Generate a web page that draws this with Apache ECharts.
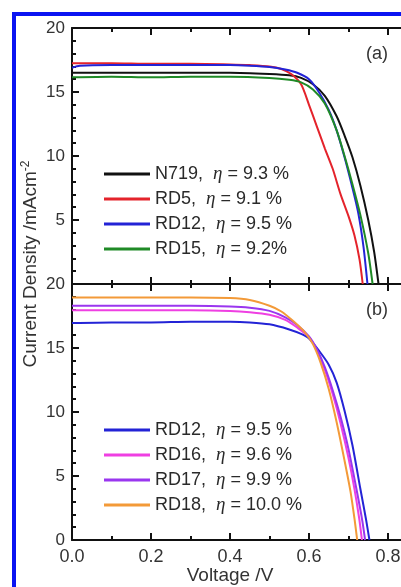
<!DOCTYPE html>
<html>
<head>
<meta charset="utf-8">
<script src="https://cdn.jsdelivr.net/npm/echarts@6/dist/echarts.min.js"></script>
<style>
  html, body { margin: 0; padding: 0; background: #fff; overflow: hidden; }
  #chart { width: 440px; height: 587px; }
</style>
</head>
<body>
<div id="chart"></div>
<script>
// panel (a)
const voltN719 = [0, 0.1, 0.2, 0.3, 0.4, 0.5, 0.55, 0.58, 0.61, 0.64, 0.67, 0.69, 0.71, 0.73, 0.75, 0.765, 0.776]
const curN719 = [16.5, 16.5, 16.5, 16.5, 16.5, 16.4, 16.3, 16.1, 15.6, 14.7, 13.1, 11.6, 9.9, 7.7, 5.0, 2.5, 0]
const voltRD5 = [0, 0.1, 0.2, 0.3, 0.4, 0.45, 0.5, 0.53, 0.555, 0.58, 0.6, 0.62, 0.64, 0.66, 0.68, 0.7, 0.715, 0.728, 0.736]
const curRD5 = [17.25, 17.25, 17.2, 17.2, 17.15, 17.1, 17.0, 16.8, 16.4, 15.6, 14.0, 12.3, 10.6, 9.0, 7.0, 5.3, 3.8, 1.9, 0]
const voltRD12a = [0, 0.02, 0.1, 0.2, 0.3, 0.4, 0.45, 0.5, 0.54, 0.57, 0.6, 0.625, 0.65, 0.67, 0.69, 0.71, 0.725, 0.738, 0.748]
const curRD12a = [16.9, 17.05, 17.1, 17.1, 17.1, 17.1, 17.05, 16.95, 16.75, 16.5, 16.0, 15.0, 13.6, 12.0, 9.9, 7.5, 5.5, 2.9, 0]
const voltRD15 = [0, 0.1, 0.2, 0.3, 0.4, 0.5, 0.55, 0.58, 0.61, 0.64, 0.67, 0.69, 0.71, 0.73, 0.75, 0.761]
const curRD15 = [16.15, 16.2, 16.15, 16.2, 16.2, 16.1, 15.95, 15.75, 15.2, 14.1, 12.0, 10.0, 7.8, 5.4, 2.4, 0]

// panel (b)
const voltRD12b = [0, 0.1, 0.2, 0.3, 0.4, 0.45, 0.5, 0.55, 0.58, 0.6, 0.625, 0.65, 0.67, 0.69, 0.71, 0.73, 0.745, 0.753]
const curRD12b = [16.95, 17.0, 17.0, 17.05, 17.05, 17.0, 16.85, 16.45, 16.1, 15.75, 14.8, 13.7, 12.3, 10.1, 7.4, 4.0, 1.5, 0]
const voltRD16 = [0, 0.1, 0.2, 0.3, 0.4, 0.45, 0.5, 0.54, 0.57, 0.6, 0.62, 0.64, 0.66, 0.68, 0.7, 0.715, 0.727, 0.734]
const curRD16 = [17.95, 17.95, 17.95, 17.95, 17.9, 17.8, 17.6, 17.2, 16.6, 15.85, 14.8, 13.3, 11.4, 9.1, 6.4, 4.0, 1.7, 0]
const voltRD17 = [0, 0.1, 0.2, 0.3, 0.4, 0.45, 0.5, 0.54, 0.57, 0.6, 0.62, 0.64, 0.66, 0.68, 0.7, 0.72, 0.735, 0.742]
const curRD17 = [18.3, 18.3, 18.3, 18.3, 18.25, 18.15, 17.9, 17.4, 16.8, 15.9, 14.9, 13.5, 11.7, 9.6, 7.1, 4.0, 1.5, 0]
const voltRD18 = [0, 0.1, 0.2, 0.3, 0.4, 0.45, 0.5, 0.53, 0.56, 0.59, 0.61, 0.63, 0.65, 0.67, 0.69, 0.705, 0.715, 0.722]
const curRD18 = [18.95, 18.95, 18.95, 18.95, 18.9, 18.75, 18.3, 17.85, 17.1, 16.2, 15.3, 13.8, 11.8, 9.2, 6.2, 3.8, 1.7, 0]

const dyesA = ["N719", "RD5", "RD12", "RD15"]
const etaA = ["9.3 %", "9.1 %", "9.5 %", "9.2%"]
const dyesB = ["RD12", "RD16", "RD17", "RD18"]
const etaB = ["9.5 %", "9.6 %", "9.9 %", "10.0 %"]

const xTicks = { min: 0, max: 0.9, interval: 0.2 }
const yTicks = { min: 0, max: 20, interval: 5 }

const FONT = "Liberation Sans"
const colorsA = ["#111111", "#e4232b", "#2323d6", "#1f8a26"]
const colorsB = ["#2323d6", "#ef3fe2", "#9a36ef", "#f39a38"]

const pairs = (xs, ys) => xs.map((x, i) => [x, ys[i]])

const seriesA = [
  pairs(voltN719, curN719),
  pairs(voltRD5, curRD5),
  pairs(voltRD12a, curRD12a),
  pairs(voltRD15, curRD15)
]
const seriesB = [
  pairs(voltRD12b, curRD12b),
  pairs(voltRD16, curRD16),
  pairs(voltRD17, curRD17),
  pairs(voltRD18, curRD18)
]

const labelMap = {}
dyesA.forEach((d, i) => { labelMap["a-" + d] = "{n|" + d + ",}  {e|η}{n| = " + etaA[i] + "}" })
dyesB.forEach((d, i) => { labelMap["b-" + d] = "{n|" + d + ",}  {e|η}{n| = " + etaB[i] + "}" })

const axisLine = { onZero: false, lineStyle: { color: "#111", width: 2 } }

function xAxis(gridIndex, position, labels) {
  return {
    type: "value",
    gridIndex,
    position,
    ...xTicks,
    axisLine,
    axisTick: { inside: true, length: 7, lineStyle: { color: "#111", width: 2 } },
    minorTick: { show: true, splitNumber: 2, length: 4, lineStyle: { color: "#111", width: 2 } },
    splitLine: { show: false },
    axisLabel: {
      show: labels,
      margin: 8,
      color: "#333",
      fontSize: 18,
      fontFamily: FONT,
      showMaxLabel: false,
      formatter: (v) => v.toFixed(1)
    }
  }
}

function yAxis(gridIndex, hideZero) {
  return {
    type: "value",
    gridIndex,
    ...yTicks,
    axisLine,
    axisTick: { inside: true, length: 7, lineStyle: { color: "#111", width: 2 } },
    minorTick: { show: true, splitNumber: 5, length: 4, lineStyle: { color: "#111", width: 2 } },
    splitLine: { show: false },
    axisLabel: {
      margin: 7,
      color: "#333",
      fontSize: 17,
      fontFamily: FONT,
      formatter: (v) => (hideZero && v === 0 ? "" : String(v))
    }
  }
}

function legend(names, top) {
  return {
    data: names,
    orient: "vertical",
    left: 104,
    top,
    padding: 0,
    itemGap: 0,
    itemWidth: 46,
    itemHeight: 3,
    icon: "rect",
    selectedMode: false,
    formatter: (name) => labelMap[name],
    textStyle: {
      fontSize: 18,
      lineHeight: 25,
      rich: {
        n: { fontSize: 18, lineHeight: 25, fontFamily: FONT, color: "#2a2a2a" },
        e: { fontSize: 19, lineHeight: 25, fontFamily: "Liberation Serif", fontStyle: "italic", color: "#2a2a2a" }
      }
    }
  }
}

const series = []
seriesA.forEach((data, i) => {
  series.push({
    name: "a-" + dyesA[i],
    type: "line",
    xAxisIndex: 0,
    yAxisIndex: 0,
    data,
    smooth: 0.25,
    showSymbol: false,
    color: colorsA[i],
    lineStyle: { width: 2, color: colorsA[i] }
  })
})
seriesB.forEach((data, i) => {
  series.push({
    name: "b-" + dyesB[i],
    type: "line",
    xAxisIndex: 3,
    yAxisIndex: 1,
    data,
    smooth: 0.25,
    showSymbol: false,
    color: colorsB[i],
    lineStyle: { width: 2, color: colorsB[i] }
  })
})

const chart = echarts.init(document.getElementById("chart"))
chart.setOption({
  animation: false,
  backgroundColor: "#fff",
  grid: [
    { left: 72, top: 28, width: 355.5, height: 256 },
    { left: 72, top: 284, width: 355.5, height: 256 }
  ],
  xAxis: [
    xAxis(0, "bottom", false),
    xAxis(0, "top", false),
    xAxis(1, "top", false),
    xAxis(1, "bottom", true)
  ],
  yAxis: [yAxis(0, true), yAxis(1, false)],
  legend: [
    legend(seriesA.map((_, i) => "a-" + dyesA[i]), 161.5),
    legend(seriesB.map((_, i) => "b-" + dyesB[i]), 417.5)
  ],
  series,
  graphic: [
    { type: "rect", shape: { x: 12, y: 12, width: 430, height: 4 }, style: { fill: "#0a14f2" } },
    { type: "rect", shape: { x: 12, y: 12, width: 4, height: 590 }, style: { fill: "#0a14f2" } },
    {
      type: "text",
      x: 31,
      y: 264,
      rotation: Math.PI / 2,
      style: {
        text: "{m|Current Density /mAcm}{s|-2}",
        align: "center",
        verticalAlign: "middle",
        rich: {
          m: { fontSize: 19, fontFamily: FONT, fill: "#333", lineHeight: 22 },
          s: { fontSize: 12, fontFamily: FONT, fill: "#333", verticalAlign: "top", lineHeight: 22 }
        }
      }
    },
    {
      type: "text",
      x: 230,
      y: 576,
      style: { text: "Voltage /V", fontSize: 19, fontFamily: FONT, fill: "#333", align: "center", verticalAlign: "middle" }
    },
    {
      type: "text",
      x: 377,
      y: 54,
      style: { text: "(a)", fontSize: 18, fontFamily: FONT, fill: "#333", align: "center", verticalAlign: "middle" }
    },
    {
      type: "text",
      x: 377,
      y: 310,
      style: { text: "(b)", fontSize: 18, fontFamily: FONT, fill: "#333", align: "center", verticalAlign: "middle" }
    }
  ]
})
</script>
</body>
</html>
